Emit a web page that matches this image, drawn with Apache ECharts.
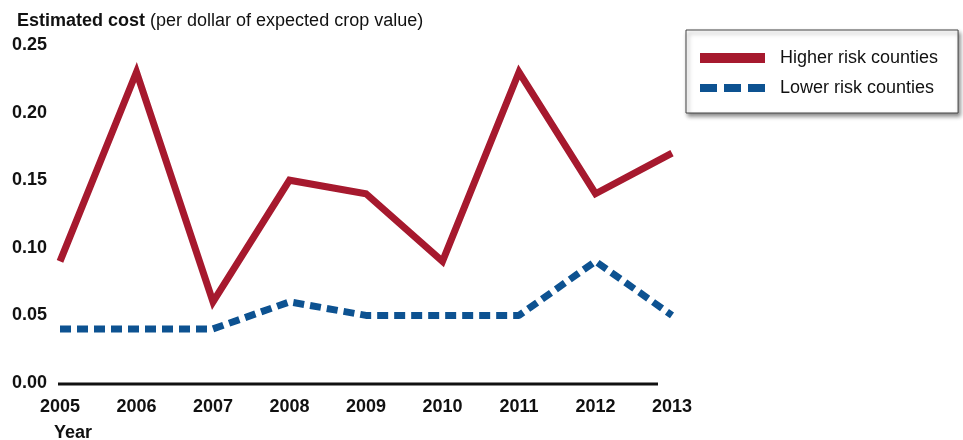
<!DOCTYPE html>
<html>
<head>
<meta charset="utf-8">
<script src="https://cdn.jsdelivr.net/npm/echarts@6/dist/echarts.min.js"></script>
<style>
  html, body { margin: 0; padding: 0; background: #fff; }
  #chart { width: 963px; height: 440px; }
</style>
</head>
<body>
<div id="chart"></div>
<script>
// data
const years = ['2005', '2006', '2007', '2008', '2009', '2010', '2011', '2012', '2013']
const higherRisk = [0.09, 0.23, 0.06, 0.15, 0.14, 0.09, 0.23, 0.14, 0.17]
const lowerRisk = [0.04, 0.04, 0.04, 0.06, 0.05, 0.05, 0.05, 0.09, 0.05]

const FONT = '"Liberation Sans", Arial, sans-serif'
const RED = '#a6192e'
const BLUE = '#0d5291'

const chart = echarts.init(document.getElementById('chart'))

chart.setOption({
  animation: false,
  backgroundColor: '#fff',
  title: {
    left: 12,
    top: 7,
    text: '{b|Estimated cost} {n|(per dollar of expected crop value)}',
    textStyle: {
      rich: {
        b: { fontFamily: FONT, fontSize: 18, fontWeight: 'bold', color: '#111' },
        n: { fontFamily: FONT, fontSize: 18, fontWeight: 'normal', color: '#111' }
      }
    }
  },
  legend: {
    left: 686,
    top: 30,
    orient: 'vertical',
    padding: [19, 20, 16, 14],
    itemGap: 12,
    itemWidth: 65,
    itemHeight: 10,
    backgroundColor: '#fff',
    borderColor: '#444',
    borderWidth: 1,
    shadowBlur: 4,
    shadowOffsetX: 2,
    shadowOffsetY: 3,
    shadowColor: 'rgba(0,0,0,0.45)',
    textStyle: { fontFamily: FONT, fontSize: 18, color: '#111', padding: [0, 0, 0, 10] },
    data: [
      { name: 'Higher risk counties', icon: 'rect', itemStyle: { color: RED } },
      {
        name: 'Lower risk counties',
        icon: 'path://M0,0h17v8h-17z M24,0h17v8h-17z M48,0h17v8h-17z',
        itemStyle: { color: BLUE }
      }
    ]
  },
  grid: { left: 60, right: 291, top: 45, bottom: 57 },
  xAxis: {
    type: 'category',
    data: years,
    boundaryGap: false,
    axisLine: { show: false },
    axisTick: { show: false },
    axisLabel: { fontFamily: FONT, fontSize: 18, fontWeight: 'bold', color: '#111', margin: 15 }
  },
  yAxis: {
    type: 'value',
    min: 0,
    max: 0.25,
    interval: 0.05,
    splitLine: { show: false },
    axisLine: { show: false },
    axisTick: { show: false },
    axisLabel: {
      fontFamily: FONT,
      fontSize: 18,
      fontWeight: 'bold',
      color: '#111',
      align: 'left',
      margin: 48,
      formatter: v => v.toFixed(2)
    }
  },
  graphic: [
    // black base line under the plot
    { type: 'line', shape: { x1: 58, y1: 384, x2: 658, y2: 384 }, style: { stroke: '#111', lineWidth: 3 } },
    { type: 'text', left: 54, top: 424, style: { text: 'Year', font: 'bold 18px ' + FONT, fill: '#111' } }
  ],
  series: [
    {
      name: 'Higher risk counties',
      type: 'line',
      data: higherRisk,
      symbol: 'none',
      color: RED,
      lineStyle: { color: RED, width: 7, join: 'miter' }
    },
    {
      name: 'Lower risk counties',
      type: 'line',
      data: lowerRisk,
      symbol: 'none',
      color: BLUE,
      lineStyle: { color: BLUE, width: 7, type: [11, 6] }
    }
  ]
})
</script>
</body>
</html>
